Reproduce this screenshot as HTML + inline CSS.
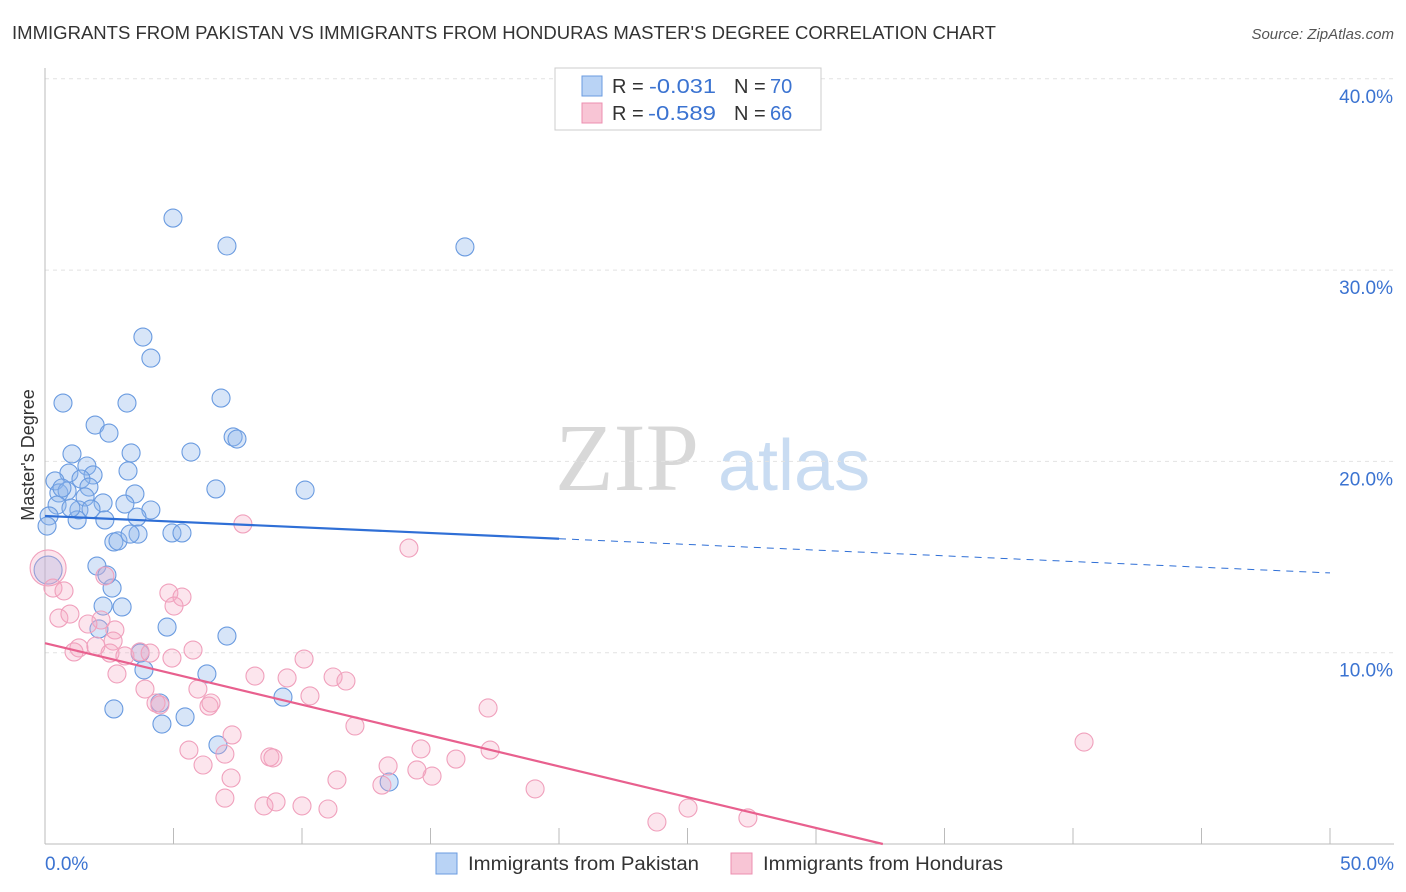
<!DOCTYPE html>
<html><head><meta charset="utf-8"><style>
body{margin:0;background:#fff;font-family:"Liberation Sans",sans-serif;}
#wrap{position:relative;width:1406px;height:892px;overflow:hidden;}
</style></head><body>
<div id="wrap">
<svg id="svg" width="1406" height="892" xmlns="http://www.w3.org/2000/svg">
<text x="12" y="39" font-size="18" fill="#333" textLength="984" lengthAdjust="spacingAndGlyphs">IMMIGRANTS FROM PAKISTAN VS IMMIGRANTS FROM HONDURAS MASTER'S DEGREE CORRELATION CHART</text>
<text x="1394" y="39" font-size="15" fill="#555" font-style="italic" text-anchor="end">Source: ZipAtlas.com</text>
<text x="555" y="490" font-size="96" fill="#d8d8d8" font-family="Liberation Serif">ZIP</text>
<text x="718" y="490" font-size="72" fill="#c9dcf2">atlas</text>
<g id="grid"></g><g id="axes"></g><g id="marks"></g>
<text transform="translate(34,455) rotate(-90)" font-size="18" fill="#333" text-anchor="middle">Master's Degree</text>
<g>
<rect x="555" y="68" width="266" height="62" fill="#fff" stroke="#ccc"/>
<rect x="582" y="76" width="20" height="20" fill="#b9d3f5" stroke="#6a9be0"/>
<rect x="582" y="103" width="20" height="20" fill="#f8c5d5" stroke="#ec8fb0"/>
<text x="612" y="93" font-size="20" fill="#333">R =</text>
<text x="649" y="93" font-size="20" fill="#3b73d1" textLength="67" lengthAdjust="spacingAndGlyphs">-0.031</text>
<text x="734" y="93" font-size="20" fill="#333">N =</text>
<text x="770" y="93" font-size="20" fill="#3b73d1">70</text>
<text x="612" y="120" font-size="20" fill="#333">R =</text>
<text x="648" y="120" font-size="20" fill="#3b73d1" textLength="68" lengthAdjust="spacingAndGlyphs">-0.589</text>
<text x="734" y="120" font-size="20" fill="#333">N =</text>
<text x="770" y="120" font-size="20" fill="#3b73d1">66</text>
</g>
<g>
<rect x="436" y="853" width="21" height="21" fill="#b9d3f5" stroke="#6a9be0"/>
<text x="468" y="870" font-size="19" fill="#333" textLength="231" lengthAdjust="spacingAndGlyphs">Immigrants from Pakistan</text>
<rect x="731" y="853" width="21" height="21" fill="#f8c5d5" stroke="#ec8fb0"/>
<text x="763" y="870" font-size="19" fill="#333" textLength="240" lengthAdjust="spacingAndGlyphs">Immigrants from Honduras</text>
</g>
</svg>
</div>
<script>
const xTicks=[0,5,10,15,20,25,30,35,40,45,50];
const yTicks=[10,20,30,40];
const yTickLabels=["10.0%","20.0%","30.0%","40.0%"];
const pakX=[4.98,7.08,16.34,3.81,4.12,0.70,3.19,6.85,1.95,2.49,7.32,7.47,3.35,5.68,1.05,1.63,3.23,0.93,1.87,1.40,0.39,1.71,0.54,0.86,6.65,10.12,3.50,1.56,0.47,3.11,1.32,4.12,2.26,1.79,0.16,1.25,3.58,2.33,0.08,2.68,2.84,3.62,3.31,4.94,5.33,2.02,2.61,2.26,3.0,2.1,4.75,7.08,3.7,6.3,3.85,2.68,4.47,4.55,5.45,9.26,6.73,13.39,1.01,0.66,2.41,0.12];
const pakY=[32.72,31.26,31.21,26.5,25.4,23.05,23.05,23.31,21.9,21.48,21.28,21.17,20.44,20.49,20.39,19.76,19.5,19.39,19.29,19.08,18.98,18.66,18.35,18.45,18.56,18.5,18.3,18.14,17.72,17.77,17.46,17.46,17.83,17.51,17.15,16.94,17.09,16.94,16.62,15.79,15.84,16.2,16.2,16.26,16.26,14.53,13.38,12.44,12.39,11.24,11.34,10.87,9.98,8.89,9.1,7.06,7.37,6.27,6.64,7.68,5.18,3.24,17.56,18.61,14.06,14.32];
const honX=[7.7,14.16,0.12,0.31,0.74,2.33,4.82,5.33,5.02,0.54,0.97,2.18,1.67,2.72,2.65,1.32,1.98,1.13,2.53,3.11,3.7,4.09,4.94,5.76,2.8,3.89,4.32,5.95,4.47,6.38,6.46,8.17,9.42,10.08,10.31,11.21,11.71,5.6,6.15,7.0,7.28,8.75,8.87,12.06,17.24,40.43,7.24,7.0,8.52,8.99,10.0,11.01,11.36,13.11,13.35,14.63,15.06,15.99,17.32,19.07,23.81,25.02,27.35,14.47];
const honY=[16.73,15.47,14.43,13.38,13.23,14.01,13.12,12.91,12.44,11.81,12.02,11.71,11.5,11.19,10.61,10.25,10.35,10.04,9.98,9.83,10.04,9.98,9.72,10.14,8.89,8.1,7.37,8.1,7.27,7.21,7.37,8.78,8.68,9.67,7.74,8.73,8.52,4.91,4.13,4.7,5.7,4.55,4.5,6.17,7.11,5.33,3.45,2.4,1.99,2.2,1.99,1.83,3.35,3.08,4.08,4.97,3.55,4.44,4.91,2.88,1.15,1.88,1.36,3.87];
const pakTrend=[17.15,14.17];
const honTrend=[10.5,0];
const honTrendEndX=32.6;
const X=v=>45+v*25.7, Y=v=>844-v*19.13;
const NS="http://www.w3.org/2000/svg";
function mk(tag,attrs,parent){const e=document.createElementNS(NS,tag);for(const k in attrs)e.setAttribute(k,attrs[k]);parent.appendChild(e);return e;}
const grid=document.getElementById('grid'),axes=document.getElementById('axes'),marks=document.getElementById('marks');
yTicks.forEach((t,i)=>{
 const l=mk('line',{x1:45,x2:1394,y1:Y(t),y2:Y(t),stroke:'#e2e2e2','stroke-dasharray':'4,4'},grid);
 
 
 const tx=mk('text',{x:1393,y:Y(t)+24,'font-size':19,fill:'#3b73d1','text-anchor':'end'},axes);
 tx.textContent=yTickLabels[i];
 
 
});
const ya=mk('line',{x1:45,x2:45,y1:68,y2:844,stroke:'#bbb'},axes);


const xa=mk('line',{x1:45,x2:1394,y1:844,y2:844,stroke:'#bbb'},axes);


xTicks.forEach(t=>{
 const l=mk('line',{x1:X(t),x2:X(t),y1:828,y2:844,stroke:'#bbb'},axes);
 
 
});
const xl0=mk('text',{x:45,y:870,'font-size':19,fill:'#3b73d1'},axes);xl0.textContent='0.0%';


const xl1=mk('text',{x:1394,y:870,'font-size':19,fill:'#3b73d1','text-anchor':'end'},axes);xl1.textContent='50.0%';


pakX.forEach((v,i)=>{
 const big=i===pakX.length-1;
 const c=mk('circle',{cx:X(v),cy:Y(pakY[i]),r:big?14:9,fill:'rgba(140,180,235,0.35)',stroke:'#6a9be0','stroke-width':1.1},marks);
 
 
});
honX.forEach((v,i)=>{
 const big=i===2;
 const c=mk('circle',{cx:X(v),cy:Y(honY[i]),r:big?18:9,fill:'rgba(245,170,195,0.3)',stroke:'#f0a0bc','stroke-width':1.1},marks);
 
 
});
const pMid=pakTrend[0]+(pakTrend[1]-pakTrend[0])*(20/50);
const t1=mk('line',{x1:X(0),y1:Y(pakTrend[0]),x2:X(20),y2:Y(pMid),stroke:'#2f6fd6','stroke-width':2.2},marks);


const t2=mk('line',{x1:X(20),y1:Y(pMid),x2:X(50),y2:Y(pakTrend[1]),stroke:'#2f6fd6','stroke-width':1,'stroke-dasharray':'7,6'},marks);


const t3=mk('line',{x1:X(0),y1:Y(honTrend[0]),x2:X(honTrendEndX),y2:Y(honTrend[1]),stroke:'#e8608e','stroke-width':2.2},marks);


</script>
</body></html>
